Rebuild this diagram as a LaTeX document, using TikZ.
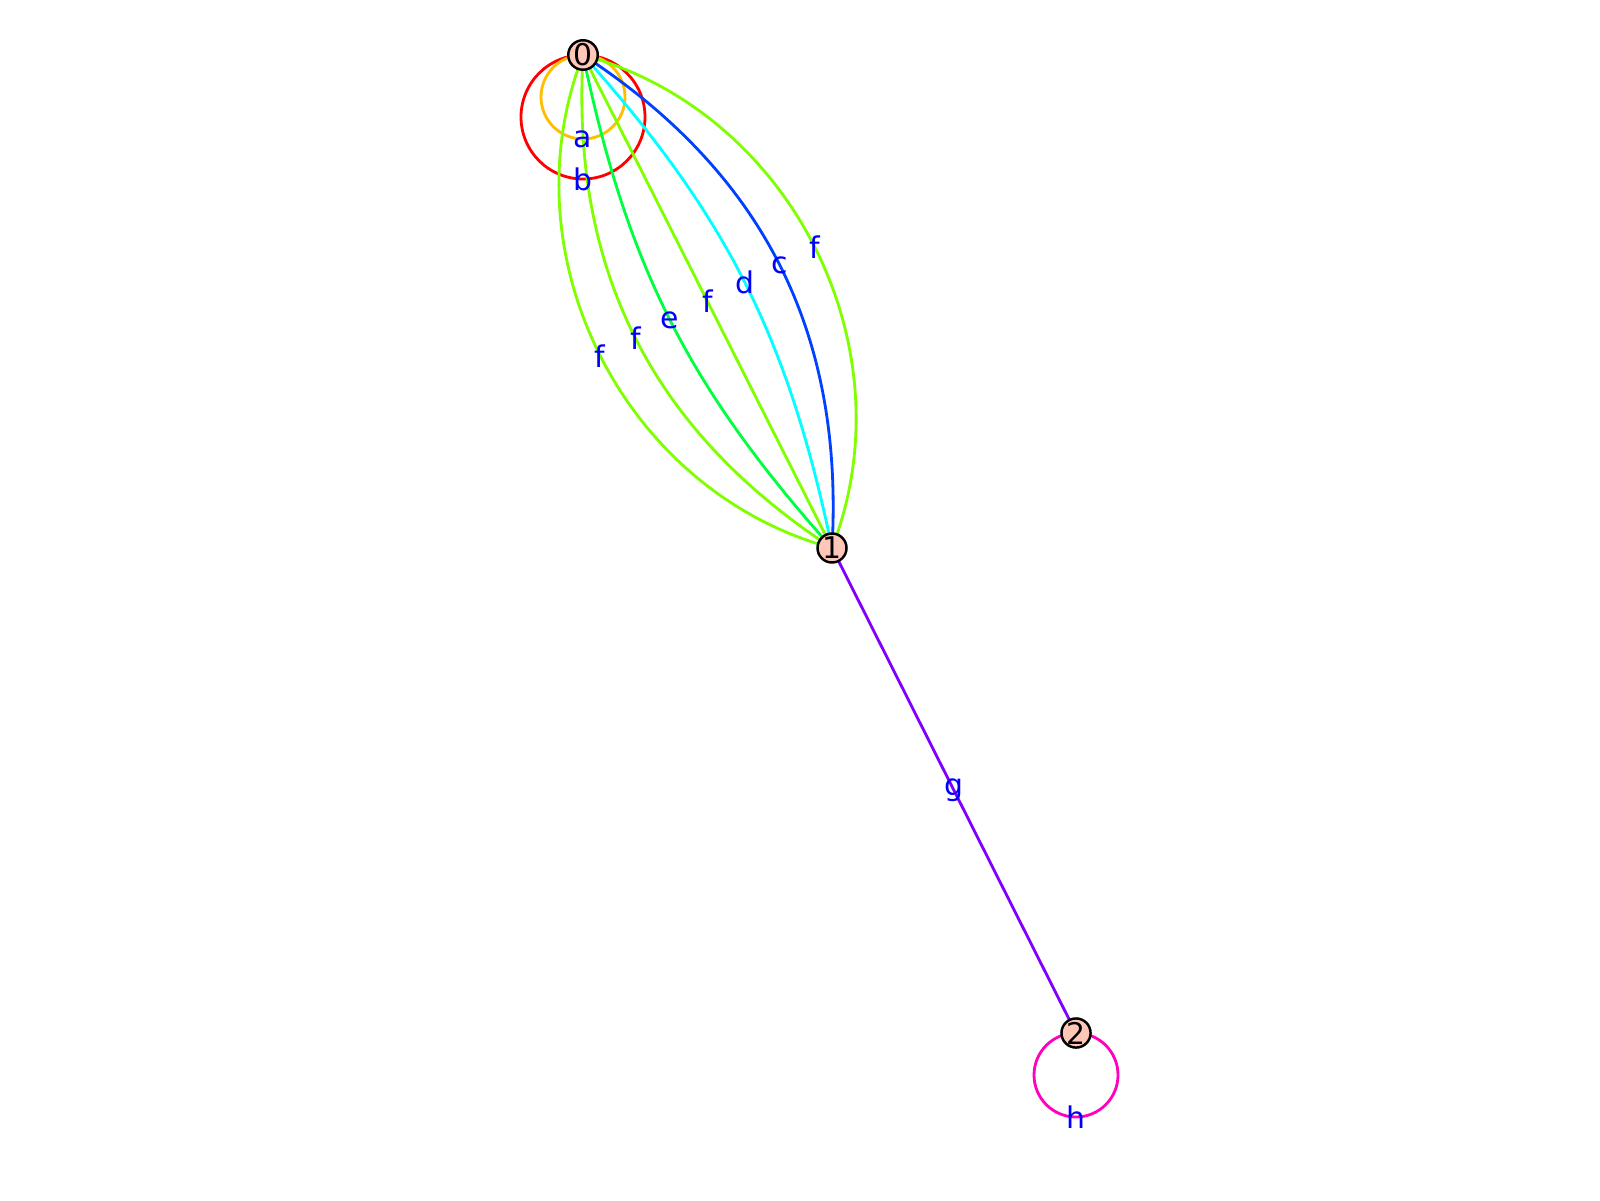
\documentclass[tikz,border=0pt]{standalone}
\usepackage{fontspec}
\setmainfont{DejaVu Sans}
\usetikzlibrary{backgrounds}
\definecolor{vfill}{HTML}{FEC7B8}
\definecolor{ea}{HTML}{FFBF00}
\definecolor{eb}{HTML}{FF0000}
\definecolor{ec}{HTML}{0040FF}
\definecolor{ed}{HTML}{00FFFF}
\definecolor{ee}{HTML}{00FF40}
\definecolor{ef}{HTML}{80FF00}
\definecolor{eg}{HTML}{7F00FF}
\definecolor{eh}{HTML}{FF00BF}
\begin{document}
\begin{tikzpicture}[
    vertex/.style={circle,draw=black,fill=vfill,inner sep=0pt,minimum size=2.9mm,
                   line width=0.7pt,font=\fontsize{8.5}{8.5}\selectfont},
    lbl/.style={text=blue,inner sep=0pt,font=\fontsize{8.5}{8.5}\selectfont},
    edge/.style={line width=0.8pt}]
    \useasboundingbox (0,0) rectangle (16,12);
%    \draw[help lines] (0,0) grid (16,12);
    \node[vertex](v0) at (5.83,11.45){0};
    \node[vertex](v1) at (8.32,6.52) {1};
    \node[vertex](v2) at (10.76,1.67){2};

    \begin{scope}[on background layer]
    \draw[edge,eb] (v0.center) arc[start angle=90,end angle=-270,radius=6.2mm];
    \draw[edge,ea] (v0.center) arc[start angle=90,end angle=-270,radius=4.2mm];
    \draw[edge,eh] (v2.center) arc[start angle=90,end angle=-270,radius=4.2mm];

    \draw[edge,ef] (v0.center) to[bend left=48]  node[lbl]{f} (v1.center);
    \draw[edge,ec] (v0.center) to[bend left=30]  node[lbl]{c} (v1.center);
    \draw[edge,ed] (v0.center) to[bend left=15]  node[lbl]{d} (v1.center);
    \draw[edge,ef] (v0.center) to                node[lbl]{f} (v1.center);
    \draw[edge,ee] (v0.center) to[bend right=15] node[lbl]{e} (v1.center);
    \draw[edge,ef] (v0.center) to[bend right=30] node[lbl]{f} (v1.center);
    \draw[edge,ef] (v0.center) to[bend right=48] node[lbl]{f} (v1.center);
    \draw[edge,eg] (v1.center) to                node[lbl]{g} (v2.center);
    \end{scope}

    \node[lbl] at ([yshift=-4.2mm*2]v0.center) {a};
    \node[lbl] at ([yshift=-6.2mm*2]v0.center) {b};
    \node[lbl] at ([yshift=-4.2mm*2]v2.center) {h};
\end{tikzpicture}
\end{document}
